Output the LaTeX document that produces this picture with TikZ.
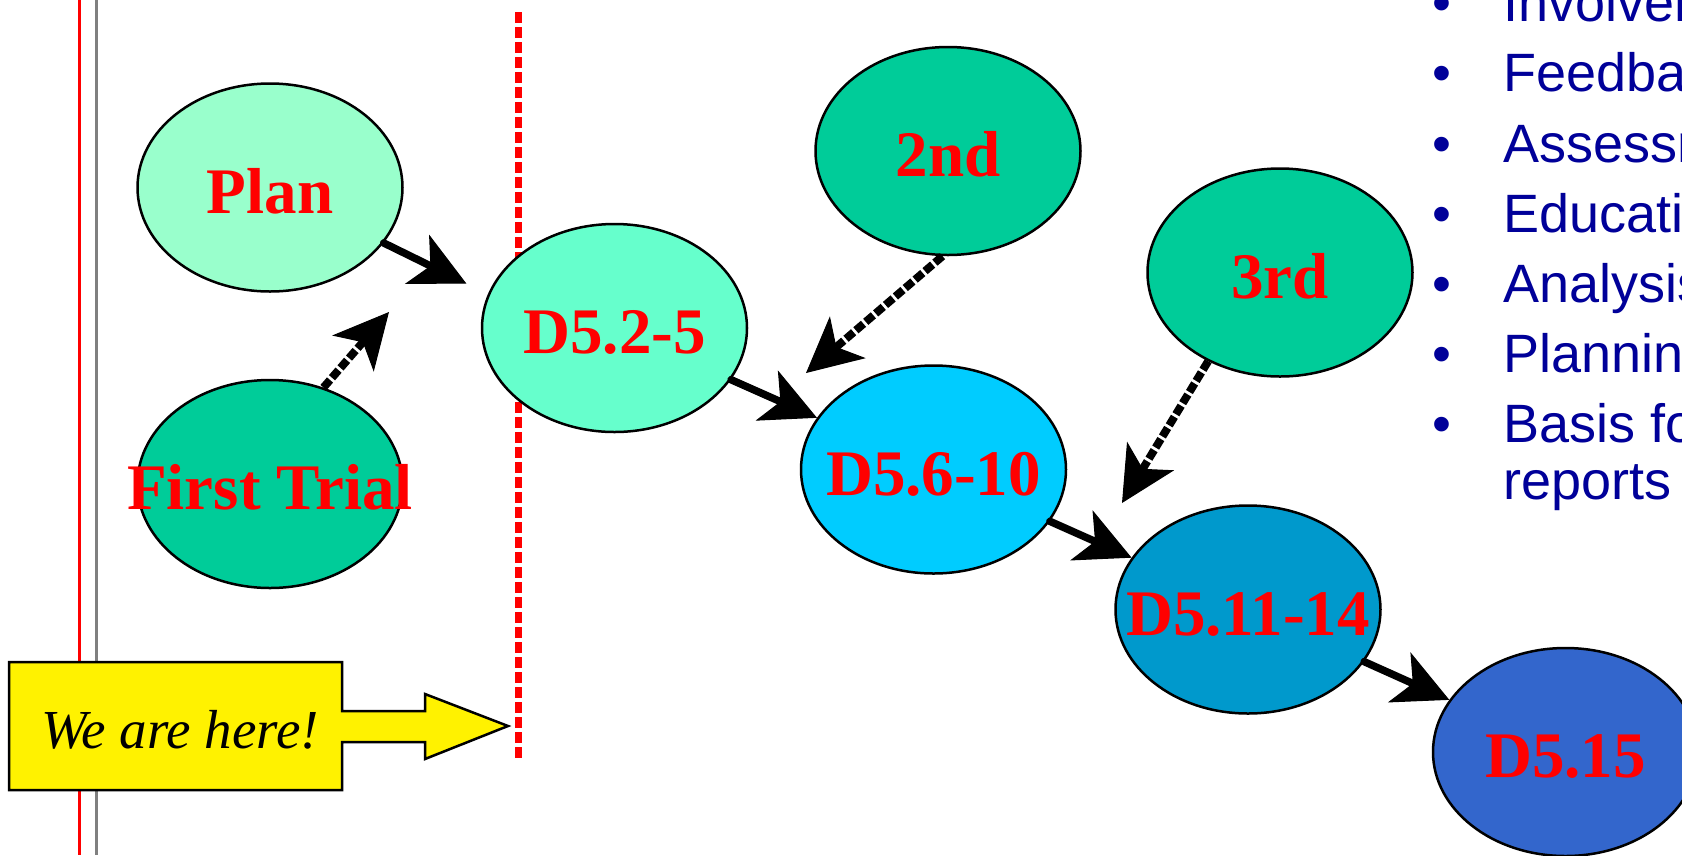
\documentclass[tikz,border=0pt]{standalone}
\usepackage{fontspec}
\setmainfont{Liberation Serif}
\newfontfamily\arialf{Liberation Sans}
\usetikzlibrary{arrows.meta,shapes.geometric,calc}
\definecolor{cPlan}{HTML}{99FFCC}
\definecolor{cTrial}{HTML}{00CC99}
\definecolor{cDa}{HTML}{66FFCC}
\definecolor{cDb}{HTML}{00CCFF}
\definecolor{cDc}{HTML}{0099CC}
\definecolor{cDd}{HTML}{3366CC}
\definecolor{textblue}{HTML}{000099}
\definecolor{margingray}{HTML}{808080}
\newcommand{\ctext}[1]{\makebox[0pt]{#1}}
\begin{document}
\begin{tikzpicture}[x=1pt,y=-1pt,
  phase/.style={ellipse, draw=black, line width=2.5pt, minimum width=265pt, minimum height=208pt,
    inner sep=0pt, text height=51pt, text depth=0pt, text=red,
    font=\fontsize{65}{65}\selectfont\bfseries},
  flow/.style={line width=7.5pt, line cap=round, -{Stealth[length=55pt,width=55pt,inset=15pt,line width=1pt]}},
  feed/.style={flow, line width=8pt, line cap=butt, dash pattern=on 10pt off 3pt},
  item/.style={anchor=base west, text=textblue, inner sep=0pt, font=\arialf\fontsize{54}{58}\selectfont},
  bul/.style={anchor=base, text=textblue, inner sep=0pt, font=\arialf\fontsize{54}{58}\selectfont}
]
\useasboundingbox (0,0) rectangle (1682,855);
\clip (0,0) rectangle (1682,855);

% margin lines
\draw[red, line width=2.5pt] (79.3,0) -- (79.3,855);
\draw[margingray, line width=3pt] (96.4,0) -- (96.4,855);

% red dotted "now" line
\coordinate (nowtop) at (518.6,12);
\coordinate (nowbot) at (518.6,758);
\draw[red, line width=7pt, dash pattern=on 11pt off 4pt] (nowtop) -- (nowbot);

% phases
\node[phase, fill=cPlan]  (plan)  at (270,187.5) {\ctext{Plan}};
\node[phase, fill=cTrial] (ft)    at (270,484)   {\ctext{First Trial}};
\node[phase, fill=cDa]    (d25)   at (614.5,328) {\ctext{D5.2-5}};
\node[phase, fill=cTrial] (s2)    at (948,151)   {\ctext{2nd}};
\node[phase, fill=cTrial] (s3)    at (1280,272.5){\ctext{3rd}};
\node[phase, fill=cDb]    (d610)  at (933.5,469.5){\ctext{D5.6-10}};
\node[phase, fill=cDc]    (d1114) at (1248,609.5){\ctext{D5.11-14}};
\node[phase, fill=cDd]    (d515)  at (1565.5,752){\ctext{D5.15}};

% solid flow arrows
\draw[flow, shorten >=24pt] (plan.-26) -- (d25.165);
\draw[flow] (d25) -- (d610);
\draw[flow] (d610) -- (d1114);
\draw[flow] (d1114) -- (d515);

% dashed feed arrows
\coordinate (fttip) at (389,312);
\coordinate (s2tip) at (806,373);
\coordinate (s3tip) at (1122,503);
\draw[feed] (ft.61) -- (fttip);
\draw[feed] (s2.267) -- (s2tip);
\draw[feed] (s3.231) -- (s3tip);

% callout
\draw[fill=yellow, line width=2.5pt, line join=miter]
  (9,662) -- (342,662) -- (342,711) -- (425,711) -- (425,694) -- (508,726)
  -- (425,759) -- (425,742) -- (342,742) -- (342,790) -- (9,790) -- cycle;
\node[anchor=base, inner sep=0pt, font=\fontsize{55}{55}\selectfont\itshape] (here) at (180,748) {We are here!};

% bullet list
\node[bul] (b1) at (1442,21)  {•}; \node[item] (i1) at (1503,21)  {Involvement};
\node[bul] (b2) at (1442,91)  {•}; \node[item] (i2) at (1503,91)  {Feedback};
\node[bul] (b3) at (1442,162) {•}; \node[item] (i3) at (1503,162) {Assessment};
\node[bul] (b4) at (1442,232) {•}; \node[item] (i4) at (1503,232) {Education};
\node[bul] (b5) at (1442,302) {•}; \node[item] (i5) at (1503,302) {Analysis};
\node[bul] (b6) at (1442,372) {•}; \node[item] (i6) at (1503,372) {Planning};
\node[bul] (b7) at (1442,442) {•}; \node[item] (i7) at (1503,442) {Basis for};
\node[item] (i8) at (1503,499) {reports};
\end{tikzpicture}
\end{document}
